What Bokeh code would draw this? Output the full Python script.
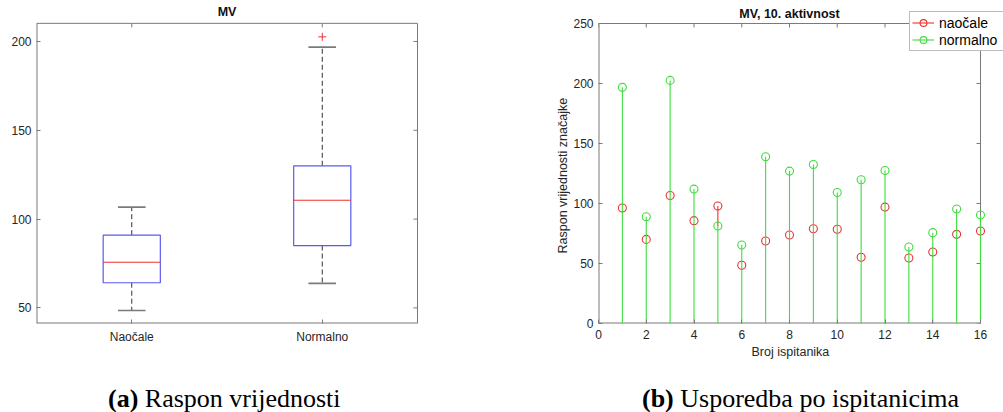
import numpy as np
from bokeh.plotting import figure
from bokeh.layouts import row, column
from bokeh.models import Range1d, FixedTicker, Label, Legend, LegendItem, Div, Title
from bokeh.embed import file_html
from bokeh.resources import INLINE

# ---------------- data ----------------
subjects = list(range(1, 17))
naocale = [96.2, 70.1, 106.7, 85.7, 97.9, 48.5, 68.7, 73.7, 79.0, 78.5, 55.2, 97.0, 54.6, 59.6, 74.3, 77.1]
normalno = [196.8, 89.0, 202.6, 112.0, 81.2, 65.4, 138.9, 127.0, 132.5, 109.2, 119.8, 127.5, 63.8, 75.7, 95.4, 90.4]
groups = ["Naočale", "Normalno"]
group_pos = [1, 2]
legend_labels = ["naočale", "normalno"]
left_title = "MV"
right_title = "MV, 10. aktivnost"
x_label = "Broj ispitanika"
y_label = "Raspon vrijednosti značajke"
caption_a = ["(a)", "Raspon vrijednosti"]
caption_b = ["(b)", "Usporedba po ispitanicima"]
left_yticks = [50, 100, 150, 200]
right_xticks = [0, 2, 4, 6, 8, 10, 12, 14, 16]
right_yticks = [0, 50, 100, 150, 200, 250]
left_xlim = (0.5, 2.5)
left_ylim = (41.2, 210.2)
right_xlim = (0, 16)
right_ylim = (0, 250)

SANS = "Liberation Sans"
SERIF = "Liberation Serif"
TXT = "#262626"
AX = "#7a7a7a"
RED = "#ee3030"
GREEN = "#3fdc3f"
BLUE = "#5a5af0"
FIG_H = 365
TICK = 4


def prctile(v, p):
    s = np.sort(np.asarray(v, float))
    n = len(s)
    pos = min(max(n * p / 100.0 + 0.5, 1.0), float(n))
    lo = int(np.floor(pos))
    frac = pos - lo
    hi = min(lo + 1, n)
    return s[lo - 1] + frac * (s[hi - 1] - s[lo - 1])


def box_stats(v):
    a = np.asarray(v, float)
    q1, med, q3 = prctile(a, 25), prctile(a, 50), prctile(a, 75)
    iqr = q3 - q1
    inside = a[(a >= q1 - 1.5 * iqr) & (a <= q3 + 1.5 * iqr)]
    out = a[(a < q1 - 1.5 * iqr) | (a > q3 + 1.5 * iqr)]
    return q1, med, q3, inside.min(), inside.max(), list(out)


def make_panel(width, box_l, box_r, box_t, box_b, xlim, ylim, xticks, yticks):
    """box_* are the axes-box pixel edges inside this figure; the frame spans
    from the top of the figure so that titles/legends are not clipped."""
    frame_r = width
    ppx = (box_r - box_l) / (xlim[1] - xlim[0])
    ppy = (box_b - box_t) / (ylim[1] - ylim[0])
    x_end = xlim[1] + (frame_r - box_r) / ppx
    y_end = ylim[1] + box_t / ppy
    p = figure(width=width, height=FIG_H, x_range=Range1d(xlim[0], x_end),
               y_range=Range1d(ylim[0], y_end), output_backend="svg", toolbar_location=None,
               min_border_left=box_l, min_border_right=0, min_border_top=0,
               min_border_bottom=FIG_H - box_b)
    for ax in p.xaxis + p.yaxis:
        ax.axis_line_color = None
        ax.major_tick_line_color = AX
        ax.major_tick_in = TICK
        ax.major_tick_out = 0
        ax.minor_tick_line_color = None
        ax.major_label_text_font = SANS
        ax.major_label_text_font_size = "12px"
        ax.major_label_text_color = TXT
    p.xaxis.ticker = FixedTicker(ticks=xticks)
    p.yaxis.ticker = FixedTicker(ticks=yticks)
    p.xaxis.major_label_standoff = 6
    p.yaxis.major_label_standoff = 5
    p.grid.visible = False
    p.outline_line_color = None
    p.background_fill_color = "white"
    p.border_fill_color = "white"
    # axes box: edges that sit on the frame edge get double width (half is clipped)
    lw_r = 2 if frame_r == box_r else 1
    p.segment(x0=[xlim[0]], y0=[ylim[0]], x1=[xlim[0]], y1=[ylim[1]], line_color=AX, line_width=2)
    p.segment(x0=[xlim[0]], y0=[ylim[0]], x1=[xlim[1]], y1=[ylim[0]], line_color=AX, line_width=2)
    p.segment(x0=[xlim[1]], y0=[ylim[0]], x1=[xlim[1]], y1=[ylim[1]], line_color=AX, line_width=lw_r)
    p.segment(x0=[xlim[0]], y0=[ylim[1]], x1=[xlim[1]], y1=[ylim[1]], line_color=AX, line_width=1)
    # mirrored ticks on the top and right edges
    p.segment(x0=xticks, y0=[ylim[1]] * len(xticks), x1=xticks,
              y1=[ylim[1] - TICK / ppy] * len(xticks), line_color=AX, line_width=1)
    p.segment(x0=[xlim[1]] * len(yticks), y0=yticks, x1=[xlim[1] - TICK / ppx] * len(yticks),
              y1=yticks, line_color=AX, line_width=1)
    return p


# ---------------- left: box plot ----------------
p1 = make_panel(500, 36, 417, 23, 325, left_xlim, left_ylim, group_pos, left_yticks)
p1.xaxis.major_label_overrides = {k: g for k, g in zip(group_pos, groups)}

stats = [box_stats(naocale), box_stats(normalno)]
xs = group_pos
q1s = [s[0] for s in stats]
meds = [s[1] for s in stats]
q3s = [s[2] for s in stats]
wlo = [s[3] for s in stats]
whi = [s[4] for s in stats]
bw, cw = 0.15, 0.0725

p1.segment(x0=xs, y0=q3s, x1=xs, y1=whi, line_color="#333333", line_width=1, line_dash="5 3")
p1.segment(x0=xs, y0=q1s, x1=xs, y1=wlo, line_color="#333333", line_width=1, line_dash="5 3")
p1.segment(x0=[x - cw for x in xs], y0=whi, x1=[x + cw for x in xs], y1=whi, line_color="#7a7a7a", line_width=1.6)
p1.segment(x0=[x - cw for x in xs], y0=wlo, x1=[x + cw for x in xs], y1=wlo, line_color="#7a7a7a", line_width=1.6)
p1.quad(left=[x - bw for x in xs], right=[x + bw for x in xs], bottom=q1s, top=q3s,
        fill_color=None, line_color=BLUE, line_width=1.2)
p1.segment(x0=[x - bw for x in xs], y0=meds, x1=[x + bw for x in xs], y1=meds, line_color=RED, line_width=1)
ox, oy = [], []
for x, s in zip(xs, stats):
    for o in s[5]:
        ox.append(x)
        oy.append(o)
p1.scatter(ox, oy, marker="cross", size=8, line_color=RED, line_width=1)

p1.add_layout(Label(x=190.5, y=312, x_units="screen", y_units="screen", text=left_title,
                    text_font=SANS, text_font_size="12.5px", text_font_style="bold",
                    text_color="#111111", text_align="center", text_baseline="middle"))

# ---------------- right: stems ----------------
p2 = make_panel(503, 98, 480, 23, 323, right_xlim, right_ylim, right_xticks, right_yticks)
p2.add_layout(Title(text=x_label, align="left", offset=153, standoff=3, text_font=SANS,
                    text_font_size="12.5px", text_font_style="normal", text_color=TXT), "below")
p2.add_layout(Title(text=y_label, align="left", offset=70, standoff=1, text_font=SANS,
                    text_font_size="12.5px", text_font_style="normal", text_color=TXT), "left")

zeros = [0] * len(subjects)
# the red stem is only visible where it rises above the green one drawn over it
red_base = list(np.minimum(naocale, normalno))
r_red_l = p2.segment(x0=subjects, y0=red_base, x1=subjects, y1=naocale, line_color=RED, line_width=1.1)
r_red_m = p2.scatter(subjects, naocale, marker="circle", size=8, fill_color=None, line_color=RED, line_width=1.1)
r_grn_l = p2.segment(x0=subjects, y0=zeros, x1=subjects, y1=normalno, line_color=GREEN, line_width=1.1)
r_grn_m = p2.scatter(subjects, normalno, marker="circle", size=8, fill_color=None, line_color=GREEN, line_width=1.1)

legend = Legend(items=[LegendItem(label=legend_labels[0], renderers=[r_red_l, r_red_m]),
                       LegendItem(label=legend_labels[1], renderers=[r_grn_l, r_grn_m])],
                location=(311, 272), label_text_font=SANS, label_text_font_size="14px",
                label_text_color="black", glyph_width=22, glyph_height=17, label_height=17,
                label_width=62, label_standoff=5, padding=2, spacing=0, margin=0,
                border_line_color=AX, border_line_width=1, background_fill_color="white",
                background_fill_alpha=1.0)
p2.add_layout(legend, "center")

p2.add_layout(Label(x=191, y=310, x_units="screen", y_units="screen", text=right_title,
                    text_font=SANS, text_font_size="12.5px", text_font_style="bold",
                    text_color="#111111", text_align="center", text_baseline="middle"))

# ---------------- captions ----------------
cap_style = ("font-family:'Liberation Serif',serif;font-size:26px;line-height:26px;"
             "color:black;white-space:nowrap;padding-top:16px;")
d1 = Div(text=f"<div style=\"{cap_style}padding-left:103px\"><b>{caption_a[0]}</b> {caption_a[1]}</div>",
         width=500, height=412 - FIG_H)
d2 = Div(text=f"<div style=\"{cap_style}padding-left:127px\"><b>{caption_b[0]}</b> {caption_b[1]}</div>",
         width=503, height=412 - FIG_H)

layout = column(row(p1, p2, spacing=0), row(d1, d2, spacing=0), spacing=0)
open("out.html", "w").write(file_html(layout, INLINE))
